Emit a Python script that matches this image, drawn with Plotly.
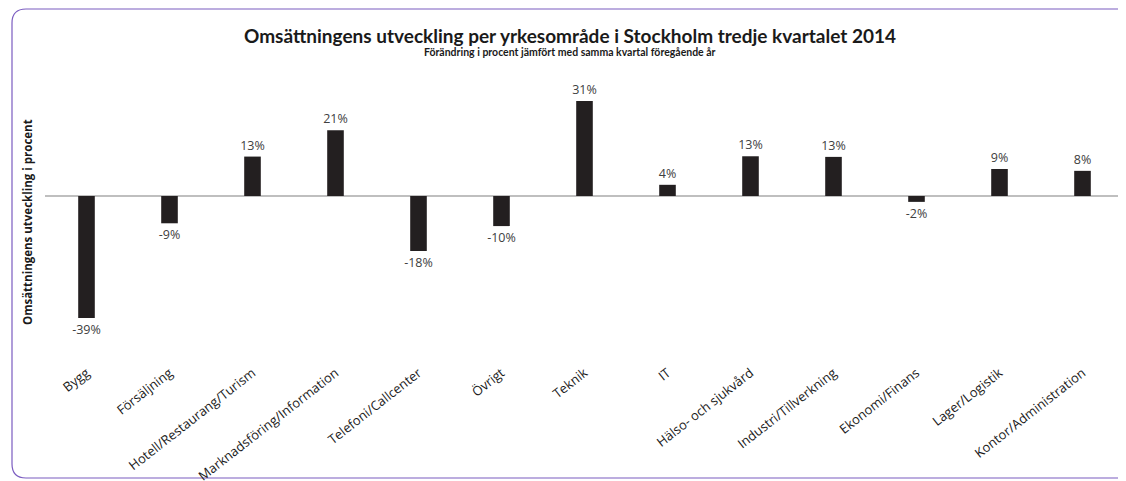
import plotly.graph_objects as go

categories = ["Bygg", "Försäljning", "Hotell/Restaurang/Turism", "Marknadsföring/Information",
              "Telefoni/Callcenter", "Övrigt", "Teknik", "IT", "Hälso- och sjukvård",
              "Industri/Tillverkning", "Ekonomi/Finans", "Lager/Logistik", "Kontor/Administration"]
values = [-39.3, -8.8, 12.7, 21.2, -17.7, -9.7, 30.6, 3.6, 12.8, 12.6, -1.9, 8.7, 8.1]
labels = ["-39%", "-9%", "13%", "21%", "-18%", "-10%", "31%", "4%", "13%", "13%", "-2%", "9%", "8%"]

# page body has an 8px margin; layout coordinates below are in figure pixels
W, H = 1126, 481
L, R, T, B = 37, 10, 62, 127

fig = go.Figure(go.Bar(
    x=categories, y=values, text=labels, textposition="outside",
    constraintext="none", textangle=0,
    marker=dict(color="#231f20", line=dict(width=0)),
    textfont=dict(family="Open Sans", size=12.5, color="#404040"),
    outsidetextfont=dict(family="Open Sans", size=12.5, color="#404040"),
    cliponaxis=False, width=0.2,
))

def px(x):
    return (x - L) / (W - L - R)

def py(y):
    return (H - B - y) / (H - T - B)

# rounded frame
x0, x1, y0, y1, r = 4, 1140, 1, 470, 14
path = (f"M {px(x0)},{py(y0 + r)} Q {px(x0)},{py(y0)} {px(x0 + r)},{py(y0)} "
        f"L {px(x1 - r)},{py(y0)} Q {px(x1)},{py(y0)} {px(x1)},{py(y0 + r)} "
        f"L {px(x1)},{py(y1 - r)} Q {px(x1)},{py(y1)} {px(x1 - r)},{py(y1)} "
        f"L {px(x0 + r)},{py(y1)} Q {px(x0)},{py(y1)} {px(x0)},{py(y1 - r)} Z")

fig.update_layout(
    width=W, height=H, margin=dict(l=L, r=R, t=T, b=B),
    paper_bgcolor="white", plot_bgcolor="white", showlegend=False,
    annotations=[
        dict(text="<b>Omsättningens utveckling per yrkesområde i Stockholm tredje kvartalet 2014</b>",
             xref="paper", yref="paper", x=px(562), y=py(27), xanchor="center", yanchor="middle",
             showarrow=False, font=dict(family="Lato", size=19, color="#1a1a1a")),
        dict(text="<b>Förändring i procent jämfört med samma kvartal föregående år</b>",
             xref="paper", yref="paper", x=px(562), y=py(44), xanchor="center", yanchor="middle",
             showarrow=False, font=dict(family="Lato", size=10.5, color="#1a1a1a")),
        dict(text="<b>Omsättningens utveckling i procent</b>",
             xref="paper", yref="paper", x=px(19), y=py(214), xanchor="center", yanchor="middle",
             textangle=-90, showarrow=False,
             font=dict(family="Open Sans", size=11.5, color="#1a1a1a")),
    ],
    shapes=[dict(type="path", xref="paper", yref="paper", path=path,
                 line=dict(color="#7b5cc0", width=1.2), layer="below")],
    xaxis=dict(tickangle=-38, tickfont=dict(family="Open Sans", size=13, color="#1a1a1a"),
               showline=False, showgrid=False, ticks="", automargin=False),
    yaxis=dict(range=[-53.5, 40.6], showticklabels=False, showgrid=False, ticks="",
               automargin=False,
               zeroline=True, zerolinecolor="#bfbfbf", zerolinewidth=1.5),
)

fig.write_html("out.html")
